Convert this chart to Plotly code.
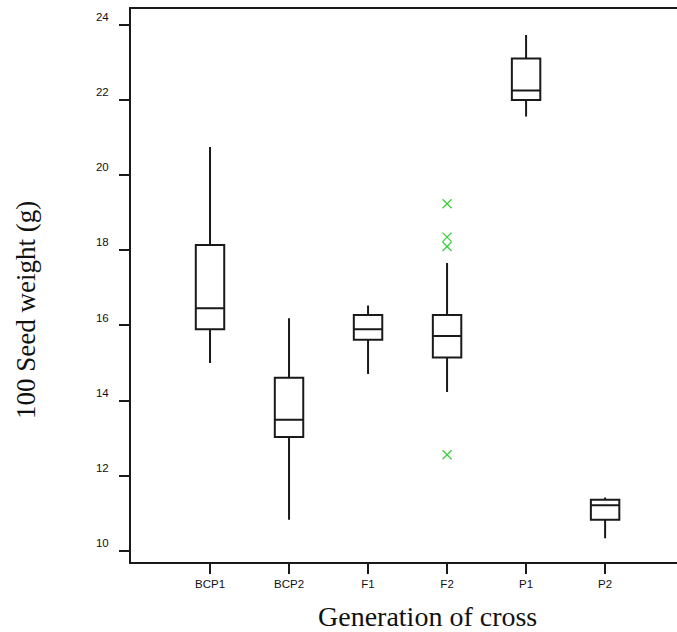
import plotly.graph_objects as go

categories = ["BCP1", "BCP2", "F1", "F2", "P1", "P2"]
lower_whisker = [15.00, 10.83, 14.71, 14.23, 21.56, 10.34]
q1_values = [15.90, 13.03, 15.62, 15.15, 22.00, 10.83]
median_values = [16.46, 13.49, 15.90, 15.72, 22.25, 11.22]
q3_values = [18.14, 14.61, 16.28, 16.28, 23.10, 11.36]
upper_whisker = [20.75, 16.19, 16.53, 17.66, 23.73, 11.42]

outlier_groups = ["F2", "F2", "F2", "F2"]
outlier_values = [19.24, 18.35, 18.10, 12.56]

y_ticks = [10, 12, 14, 16, 18, 20, 22, 24]

fig = go.Figure()
fig.add_trace(go.Box(
    x=categories,
    lowerfence=lower_whisker,
    q1=q1_values,
    median=median_values,
    q3=q3_values,
    upperfence=upper_whisker,
    width=0.36,
    whiskerwidth=0,
    fillcolor="white",
    line=dict(color="#1a1a1a", width=2),
    boxpoints=False,
    showlegend=False,
))
fig.add_trace(go.Scatter(
    x=outlier_groups,
    y=outlier_values,
    mode="markers",
    marker=dict(symbol="x-thin-open", size=9, color="#3ccf3c",
                line=dict(color="#3ccf3c", width=1.3)),
    showlegend=False,
))

tick_font = dict(family="Liberation Sans, Arial, sans-serif", size=11.5, color="#111111")
xtitle_font = dict(family="Liberation Serif, Times New Roman, serif", size=28, color="#111111")
ytitle_font = dict(family="Liberation Serif, Times New Roman, serif", size=27, color="#111111")

fig.update_layout(
    width=677, height=632,
    margin=dict(l=131, r=0, t=9, b=70),
    plot_bgcolor="white", paper_bgcolor="white",
    xaxis=dict(
        type="category",
        categoryorder="array", categoryarray=categories,
        range=[-1, 5.91],
        showgrid=False, zeroline=False,
        showline=True, linecolor="#1a1a1a", linewidth=2, mirror=True,
        ticks="outside", ticklen=10, tickwidth=2, tickcolor="#1a1a1a",
        tickfont=tick_font,
    ),
    yaxis=dict(
        range=[9.707, 24.42],
        tickvals=y_ticks,
        showgrid=False, zeroline=False,
        showline=True, linecolor="#1a1a1a", linewidth=2, mirror=False,
        ticks="outside", ticklen=10, tickwidth=2, tickcolor="#1a1a1a",
        tickfont=tick_font,
        ticklabelshift=-8,
        ticklabelstandoff=8,
    ),
    annotations=[
        dict(text="100 Seed weight (g)", textangle=-90, xref="paper", yref="paper",
             x=(26 - 131) / 546, y=(562 - 310) / 553, xanchor="center", yanchor="middle",
             showarrow=False, font=ytitle_font),
        dict(text="Generation of cross", xref="paper", yref="paper",
             x=(427.5 - 131) / 546, y=(562 - 616) / 553, xanchor="center", yanchor="middle",
             showarrow=False, font=xtitle_font),
    ],
)

fig.write_html(
    "out.html",
    config={"displayModeBar": False},
    post_script="document.body.style.margin='0';document.body.style.overflow='hidden';",
)
